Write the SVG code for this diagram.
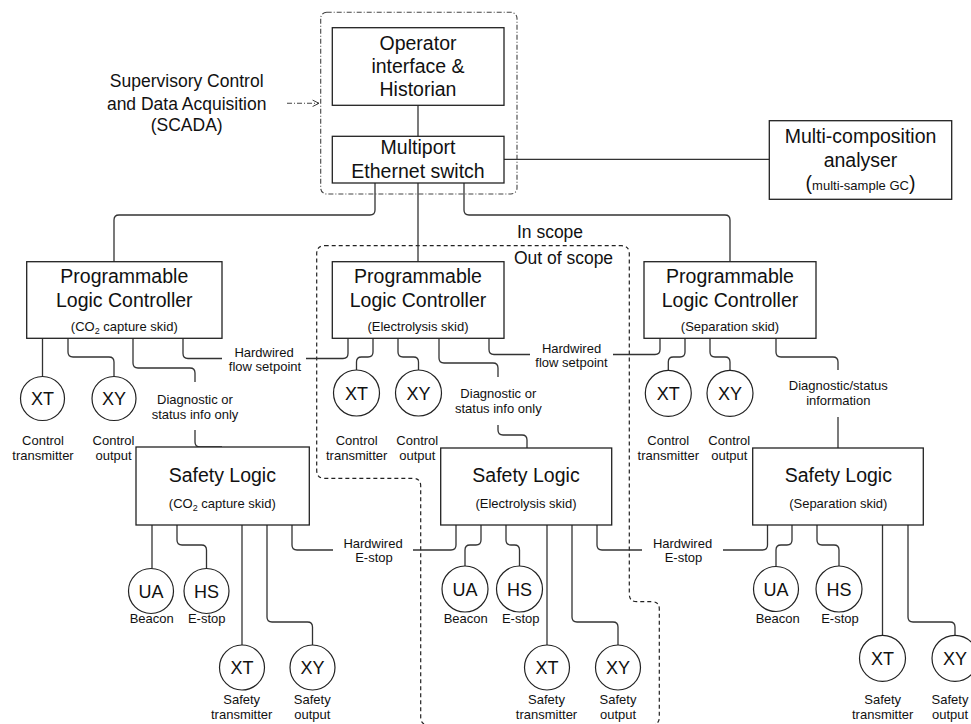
<svg xmlns="http://www.w3.org/2000/svg" width="971" height="724" viewBox="0 0 971 724">
<style>
  text { font-family: "Liberation Sans", Arial, sans-serif; fill: #111; text-anchor: middle; }
  .big { font-size: 19.5px; }
  .mid { font-size: 17.5px; }
  .sm { font-size: 13px; }
  .sym { font-size: 18px; }
  .box { fill: #fff; stroke: #222; stroke-width: 1.3; }
  .circ { fill: #fff; stroke: #222; stroke-width: 1.2; }
  .wire { fill: none; stroke: #333; stroke-width: 1.3; }
  .scope { fill: none; stroke: #222; stroke-width: 1.2; stroke-dasharray: 4 3; }
  .dashdot { fill: none; stroke: #444; stroke-width: 1.1; stroke-dasharray: 5 2 1 2; }
</style>
<defs>
  <marker id="chev" viewBox="0 0 10 10" refX="9" refY="5" markerWidth="8" markerHeight="8" markerUnits="userSpaceOnUse" orient="auto">
    <path d="M1 1 L9 5 L1 9" fill="none" stroke="#333" stroke-width="1.2"/>
  </marker>
</defs>

<!-- boundaries -->
<g id="scada-boundary">
  <rect class="dashdot" x="320.7" y="12.3" width="196.3" height="181.7" rx="6"/>
</g>
<g id="scope-boundary">
  <path class="scope" d="M 324.7 245.7 H 621.3 Q 629.3 245.7 629.3 253.7 V 594 Q 629.3 601.7 637 601.7 H 652 Q 659.3 601.7 659.3 609 V 717 Q 659.3 725 651.3 725 H 428.7 Q 420.7 725 420.7 717 V 486 Q 420.7 478.3 413 478.3 H 324.7 Q 316.7 478.3 316.7 470.3 V 253.7 Q 316.7 245.7 324.7 245.7 Z"/>
  <text class="mid" x="550" y="238.3">In scope</text>
  <text class="mid" x="563.5" y="264.3">Out of scope</text>
</g>

<!-- connectors -->
<g id="connectors" class="wire">
  <path class="dashdot" d="M 287 103.3 H 319" marker-end="url(#chev)"/>
  <path d="M 418 105 V 136"/>
  <path d="M 375 183 V 210 Q 375 215 370 215 H 119 Q 114 215 114 220 V 262"/>
  <path d="M 418 183 V 262"/>
  <path d="M 464 183 V 210 Q 464 215 469 215 H 725 Q 730 215 730 220 V 262"/>
  <path d="M 504 159.3 H 769"/>

  <!-- PLC1 -->
  <path d="M 42.5 338 V 376.5"/>
  <path d="M 68 338 V 352 Q 68 357 73 357 H 109 Q 114 357 114 362 V 376.5"/>
  <path d="M 133 338 V 363 Q 133 368 138 368 H 190 Q 195 368 195 373 V 382"/>
  <path d="M 195 430 V 442 Q 195 447 200 447 H 222"/>
  <path d="M 183 338 V 353.5 Q 183 358.5 188 358.5 H 222"/>
  <path d="M 306 358.5 H 343 Q 348 358.5 348 353.5 V 338"/>

  <!-- PLC2 -->
  <path d="M 373 338 V 352 Q 373 357 368 357 H 361.5 Q 356.5 357 356.5 362 V 370"/>
  <path d="M 398 338 V 352 Q 398 357 403 357 H 413.5 Q 418.5 357 418.5 362 V 370"/>
  <path d="M 439 338 V 358 Q 439 363 444 363 H 493 Q 498 363 498 368 V 377"/>
  <path d="M 498 425 V 430 Q 498 435 503 435 H 522 Q 527 435 527 440 V 448"/>
  <path d="M 489 338 V 349.5 Q 489 354.5 494 354.5 H 530"/>
  <path d="M 613 354.5 H 655 Q 660 354.5 660 349.5 V 338"/>

  <!-- PLC3 -->
  <path d="M 685 338 V 352 Q 685 357 680 357 H 673.3 Q 668.3 357 668.3 362 V 370"/>
  <path d="M 710 338 V 352 Q 710 357 715 357 H 725 Q 730 357 730 362 V 370"/>
  <path d="M 776 338 V 352 Q 776 357 781 357 H 833 Q 838 357 838 362 V 370"/>
  <path d="M 838 417 V 448"/>

  <!-- Safety 1 -->
  <path d="M 152 525 V 568.5"/>
  <path d="M 177 525 V 540 Q 177 545 182 545 H 201.5 Q 206.5 545 206.5 550 V 568.5"/>
  <path d="M 242 525 V 645"/>
  <path d="M 267 525 V 617 Q 267 622 272 622 H 307.5 Q 312.5 622 312.5 627 V 645"/>
  <path d="M 292 525 V 545 Q 292 550 297 550 H 333"/>
  <path d="M 413 550 H 451 Q 456 550 456 545 V 525"/>

  <!-- Safety 2 -->
  <path d="M 481 525 V 540 Q 481 545 476 545 H 470 Q 465 545 465 550 V 566"/>
  <path d="M 506 525 V 540 Q 506 545 511 545 H 514.5 Q 519.5 545 519.5 550 V 566"/>
  <path d="M 547 525 V 645"/>
  <path d="M 572 525 V 617 Q 572 622 577 622 H 613 Q 618 622 618 627 V 645"/>
  <path d="M 597 525 V 545 Q 597 550 602 550 H 642"/>
  <path d="M 723 550 H 762.5 Q 767.5 550 767.5 545 V 525"/>

  <!-- Safety 3 -->
  <path d="M 792 525 V 540 Q 792 545 787 545 H 781 Q 776 545 776 550 V 566.5"/>
  <path d="M 817 525 V 540 Q 817 545 822 545 H 834 Q 839 545 839 550 V 566.5"/>
  <path d="M 882.5 525 V 635"/>
  <path d="M 908 525 V 617 Q 908 622 913 622 H 950 Q 955 622 955 627 V 635"/>
</g>

<!-- connector labels -->
<g id="connector-labels">
  <text class="sm" x="264" y="356.5">Hardwired</text>
  <text class="sm" x="265" y="371">flow setpoint</text>
  <text class="sm" x="571.5" y="352.5">Hardwired</text>
  <text class="sm" x="571.5" y="367">flow setpoint</text>
  <text class="sm" x="195" y="404">Diagnostic or</text>
  <text class="sm" x="195" y="418.5">status info only</text>
  <text class="sm" x="498.3" y="397.5">Diagnostic or</text>
  <text class="sm" x="498.3" y="412.5">status info only</text>
  <text class="sm" x="838.3" y="390">Diagnostic/status</text>
  <text class="sm" x="838.3" y="404.5">information</text>
  <text class="sm" x="373" y="547.5">Hardwired</text>
  <text class="sm" x="374" y="562">E-stop</text>
  <text class="sm" x="682.5" y="547.5">Hardwired</text>
  <text class="sm" x="683.5" y="562">E-stop</text>
</g>

<!-- SCADA label -->
<g id="scada">
  <text class="mid" x="186.7" y="87.3">Supervisory Control</text>
  <text class="mid" x="186.7" y="109.5">and Data Acquisition</text>
  <text class="mid" x="186.7" y="131">(SCADA)</text>
</g>

<!-- top nodes -->
<g id="operator">
  <rect class="box" x="332.3" y="27.7" width="171.7" height="77.6"/>
  <text class="big" x="418" y="49.5">Operator</text>
  <text class="big" x="418" y="73">interface &amp;</text>
  <text class="big" x="418" y="96.3">Historian</text>
</g>
<g id="switch">
  <rect class="box" x="332.3" y="136.3" width="171.7" height="46.7"/>
  <text class="big" x="418" y="154">Multiport</text>
  <text class="big" x="418" y="177.5">Ethernet switch</text>
</g>
<g id="analyser">
  <rect class="box" x="769.3" y="120.7" width="182.4" height="78.6"/>
  <text class="big" x="860.5" y="142.7">Multi-composition</text>
  <text class="big" x="860.5" y="166.7">analyser</text>
  <text x="860.5" y="189.5"><tspan class="big">(</tspan><tspan class="sm">multi-sample GC</tspan><tspan class="big">)</tspan></text>
</g>

<!-- PLCs -->
<g id="plc1">
  <rect class="box" x="26.7" y="261.7" width="195.3" height="76.6"/>
  <text class="big" x="124.3" y="283.3">Programmable</text>
  <text class="big" x="124.3" y="306.7">Logic Controller</text>
  <text class="sm" x="124.3" y="330.7">(CO<tspan font-size="9" dy="3">2</tspan><tspan dy="-3"> capture skid)</tspan></text>
</g>
<g id="plc2">
  <rect class="box" x="332.3" y="261.7" width="171.7" height="76.6"/>
  <text class="big" x="418" y="283.3">Programmable</text>
  <text class="big" x="418" y="306.7">Logic Controller</text>
  <text class="sm" x="418" y="330.7">(Electrolysis skid)</text>
</g>
<g id="plc3">
  <rect class="box" x="644" y="261.7" width="172" height="76.6"/>
  <text class="big" x="730" y="283.3">Programmable</text>
  <text class="big" x="730" y="306.7">Logic Controller</text>
  <text class="sm" x="730" y="330.7">(Separation skid)</text>
</g>

<!-- PLC instruments -->
<g id="plc1-xt"><circle class="circ" cx="42.5" cy="398.5" r="22"/><text class="sym" x="42.5" y="405">XT</text></g>
<g id="plc1-xy"><circle class="circ" cx="114" cy="398.5" r="22"/><text class="sym" x="114" y="405">XY</text></g>
<g id="plc2-xt"><circle class="circ" cx="356.5" cy="393" r="23"/><text class="sym" x="356.5" y="399.5">XT</text></g>
<g id="plc2-xy"><circle class="circ" cx="418.5" cy="393" r="23"/><text class="sym" x="418.5" y="399.5">XY</text></g>
<g id="plc3-xt"><circle class="circ" cx="668.3" cy="393.3" r="23"/><text class="sym" x="668.3" y="399.8">XT</text></g>
<g id="plc3-xy"><circle class="circ" cx="730" cy="393.3" r="23"/><text class="sym" x="730" y="399.8">XY</text></g>

<g id="control-labels">
  <text class="sm" x="43" y="445">Control</text>
  <text class="sm" x="43" y="460">transmitter</text>
  <text class="sm" x="113.5" y="445">Control</text>
  <text class="sm" x="113.5" y="460">output</text>
  <text class="sm" x="356.7" y="445">Control</text>
  <text class="sm" x="356.7" y="460">transmitter</text>
  <text class="sm" x="417.3" y="445">Control</text>
  <text class="sm" x="417.3" y="460">output</text>
  <text class="sm" x="668.3" y="445">Control</text>
  <text class="sm" x="668.3" y="460">transmitter</text>
  <text class="sm" x="729.3" y="445">Control</text>
  <text class="sm" x="729.3" y="460">output</text>
</g>

<!-- Safety logic -->
<g id="safety1">
  <rect class="box" x="136" y="447" width="173.3" height="78"/>
  <text class="big" x="222.3" y="481.7">Safety Logic</text>
  <text class="sm" x="222.3" y="507.7">(CO<tspan font-size="9" dy="3">2</tspan><tspan dy="-3"> capture skid)</tspan></text>
</g>
<g id="safety2">
  <rect class="box" x="440.7" y="448" width="171" height="77"/>
  <text class="big" x="526" y="481.7">Safety Logic</text>
  <text class="sm" x="526" y="507.7">(Electrolysis skid)</text>
</g>
<g id="safety3">
  <rect class="box" x="752.7" y="448" width="170.6" height="77"/>
  <text class="big" x="838.3" y="481.7">Safety Logic</text>
  <text class="sm" x="838.3" y="507.7">(Separation skid)</text>
</g>

<!-- safety instruments -->
<g id="s1-ua"><circle class="circ" cx="151" cy="591" r="22.5"/><text class="sym" x="151" y="597.5">UA</text></g>
<g id="s1-hs"><circle class="circ" cx="206.5" cy="591" r="22.5"/><text class="sym" x="206.5" y="597.5">HS</text></g>
<g id="s1-xt"><circle class="circ" cx="242" cy="667.5" r="22.5"/><text class="sym" x="242" y="674">XT</text></g>
<g id="s1-xy"><circle class="circ" cx="312.5" cy="667.5" r="22.5"/><text class="sym" x="312.5" y="674">XY</text></g>
<g id="s2-ua"><circle class="circ" cx="465" cy="589" r="23"/><text class="sym" x="465" y="595.5">UA</text></g>
<g id="s2-hs"><circle class="circ" cx="519.5" cy="589" r="23"/><text class="sym" x="519.5" y="595.5">HS</text></g>
<g id="s2-xt"><circle class="circ" cx="547" cy="667.5" r="22.5"/><text class="sym" x="547" y="674">XT</text></g>
<g id="s2-xy"><circle class="circ" cx="618" cy="667.5" r="22.5"/><text class="sym" x="618" y="674">XY</text></g>
<g id="s3-ua"><circle class="circ" cx="776" cy="589" r="22.5"/><text class="sym" x="776" y="595.5">UA</text></g>
<g id="s3-hs"><circle class="circ" cx="839" cy="589" r="23"/><text class="sym" x="839" y="595.5">HS</text></g>
<g id="s3-xt"><circle class="circ" cx="882.5" cy="658.3" r="23"/><text class="sym" x="882.5" y="664.8">XT</text></g>
<g id="s3-xy"><circle class="circ" cx="955" cy="658.3" r="23"/><text class="sym" x="955" y="664.8">XY</text></g>

<g id="safety-labels">
  <text class="sm" x="151.7" y="623.3">Beacon</text>
  <text class="sm" x="206.7" y="623.3">E-stop</text>
  <text class="sm" x="465.7" y="623.3">Beacon</text>
  <text class="sm" x="520.7" y="623.3">E-stop</text>
  <text class="sm" x="777.7" y="623.3">Beacon</text>
  <text class="sm" x="840" y="623.3">E-stop</text>
  <text class="sm" x="241.7" y="703.5">Safety</text>
  <text class="sm" x="241.7" y="718.5">transmitter</text>
  <text class="sm" x="312.3" y="703.5">Safety</text>
  <text class="sm" x="312.3" y="718.5">output</text>
  <text class="sm" x="546.5" y="703.5">Safety</text>
  <text class="sm" x="546.5" y="718.5">transmitter</text>
  <text class="sm" x="618" y="703.5">Safety</text>
  <text class="sm" x="618" y="718.5">output</text>
  <text class="sm" x="882.7" y="703.5">Safety</text>
  <text class="sm" x="882.7" y="718.5">transmitter</text>
  <text class="sm" x="950" y="703.5">Safety</text>
  <text class="sm" x="950" y="718.5">output</text>
</g>
</svg>
